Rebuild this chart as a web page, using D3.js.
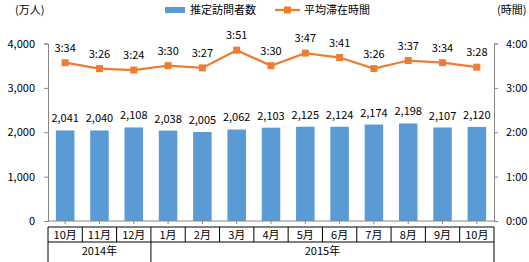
<!DOCTYPE html>
<html><head><meta charset="utf-8">
<script src="https://cdn.jsdelivr.net/npm/d3@7"></script>
<style>
body{margin:0;background:#fff;}
text{font-family:"Noto Sans CJK JP","Liberation Sans",sans-serif;font-size:11px;fill:#000;}
</style></head>
<body>
<svg id="c" width="529" height="262"></svg>
<script>
const months = ["10月","11月","12月","1月","2月","3月","4月","5月","6月","7月","8月","9月","10月"];
const visitors = [2041,2040,2108,2038,2005,2062,2103,2125,2124,2174,2198,2107,2120];
const stayTimes = ["3:34","3:26","3:24","3:30","3:27","3:51","3:30","3:47","3:41","3:26","3:37","3:34","3:28"];
const years = ["2014年","2015年"];
const yearSpans = [3,10];
const leftTicks = [0,1000,2000,3000,4000];
const rightTicks = ["0:00","1:00","2:00","3:00","4:00"];
const seriesNames = ["推定訪問者数","平均滞在時間"];
const unitLeft = "(万人)", unitRight = "(時間)";

const toMin = s => { const [h,m] = s.split(":").map(Number); return h*60+m; };

const svg = d3.select("#c");
const L = 48, R = 494, T = 43.5, B = 221;
const x = d3.scaleBand().domain(d3.range(months.length)).range([L,R]).paddingInner(0.46).paddingOuter(0.23);
const yL = d3.scaleLinear().domain([0,4000]).range([B,T]);
const yR = d3.scaleLinear().domain([0,240]).range([B,T]);
const fmt = d3.format(",");
const axisColor = "#868686";

// bars
svg.selectAll("rect.bar").data(visitors).join("rect")
  .attr("x",(d,i)=>x(i)).attr("width",x.bandwidth())
  .attr("y",d=>yL(d)).attr("height",d=>B-yL(d)).attr("fill","#5B9BD5");
svg.selectAll("text.bl").data(visitors).join("text")
  .attr("x",(d,i)=>x(i)+x.bandwidth()/2).attr("y",d=>yL(d)-8)
  .attr("text-anchor","middle").text(d=>fmt(d));

// left axis
const la = svg.append("g").attr("transform",`translate(${L},0)`)
  .call(d3.axisLeft(yL).tickValues(leftTicks).tickFormat(fmt).tickSize(4).tickPadding(9));
la.select(".domain").attr("stroke",axisColor);
la.selectAll(".tick line").attr("stroke",axisColor);
la.selectAll("text").attr("font-size","11px").attr("fill","#000").style("font-family","'Noto Sans CJK JP',sans-serif");

// right axis
const ra = svg.append("g").attr("transform",`translate(${R},0)`)
  .call(d3.axisRight(yR).tickValues([0,60,120,180,240]).tickFormat((d,i)=>rightTicks[i]).tickSize(4).tickPadding(8));
ra.select(".domain").attr("stroke",axisColor);
ra.selectAll(".tick line").attr("stroke",axisColor);
ra.selectAll("text").attr("font-size","11px").attr("fill","#000").style("font-family","'Noto Sans CJK JP',sans-serif");

// baseline with small ticks
svg.append("line").attr("x1",L).attr("x2",R).attr("y1",B).attr("y2",B).attr("stroke",axisColor);
svg.selectAll("line.ct").data(months).join("line")
  .attr("x1",(d,i)=>x(i)+x.bandwidth()/2).attr("x2",(d,i)=>x(i)+x.bandwidth()/2)
  .attr("y1",B).attr("y2",B+3).attr("stroke",axisColor);

// line series
const cx = i => x(i)+x.bandwidth()/2;
svg.append("path").datum(stayTimes)
  .attr("d",d3.line().x((d,i)=>cx(i)).y(d=>yR(toMin(d))))
  .attr("fill","none").attr("stroke","#ED7D31").attr("stroke-width",2.25);
svg.selectAll("rect.mk").data(stayTimes).join("rect")
  .attr("x",(d,i)=>cx(i)-3.5).attr("y",d=>yR(toMin(d))-3.5).attr("width",7).attr("height",7)
  .attr("fill","#ED7D31");
svg.selectAll("text.tl").data(stayTimes).join("text")
  .attr("x",(d,i)=>cx(i)).attr("y",d=>yR(toMin(d))-11)
  .attr("text-anchor","middle").text(d=>d);

// table
const step = x.step();
const tTop = 227, tMid = 242, tBot = 270;
const tbl = svg.append("g").attr("stroke","#000").attr("stroke-width",1);
tbl.append("line").attr("x1",L).attr("x2",R).attr("y1",tTop).attr("y2",tTop);
tbl.append("line").attr("x1",L).attr("x2",R).attr("y1",tMid).attr("y2",tMid);
d3.range(months.length+1).forEach(i=>{
  const xx = L + i*step;
  tbl.append("line").attr("x1",xx).attr("x2",xx).attr("y1",tTop).attr("y2",tMid);
});
let acc = 0;
const bounds = [L];
yearSpans.forEach(n=>{acc+=n; bounds.push(L+acc*step);});
bounds.forEach(xx=>tbl.append("line").attr("x1",xx).attr("x2",xx).attr("y1",tMid).attr("y2",tBot));
svg.selectAll("text.mo").data(months).join("text")
  .attr("x",(d,i)=>L+(i+0.5)*step).attr("y",tTop+11.5).attr("text-anchor","middle").text(d=>d);
svg.selectAll("text.yr").data(years).join("text")
  .attr("x",(d,i)=>(bounds[i]+bounds[i+1])/2).attr("y",tMid+12.5).attr("text-anchor","middle").text(d=>d);

// units
svg.append("text").attr("x",15).attr("y",14).text(unitLeft);
svg.append("text").attr("x",497).attr("y",14).text(unitRight);

// legend
svg.append("rect").attr("x",165).attr("y",7).attr("width",20).attr("height",6).attr("fill","#5B9BD5");
svg.append("text").attr("x",190).attr("y",14).text(seriesNames[0]);
svg.append("line").attr("x1",275).attr("x2",300).attr("y1",10).attr("y2",10).attr("stroke","#ED7D31").attr("stroke-width",2.25);
svg.append("rect").attr("x",284).attr("y",6.5).attr("width",7).attr("height",7).attr("fill","#ED7D31");
svg.append("text").attr("x",304).attr("y",14).text(seriesNames[1]);
</script>
</body></html>
